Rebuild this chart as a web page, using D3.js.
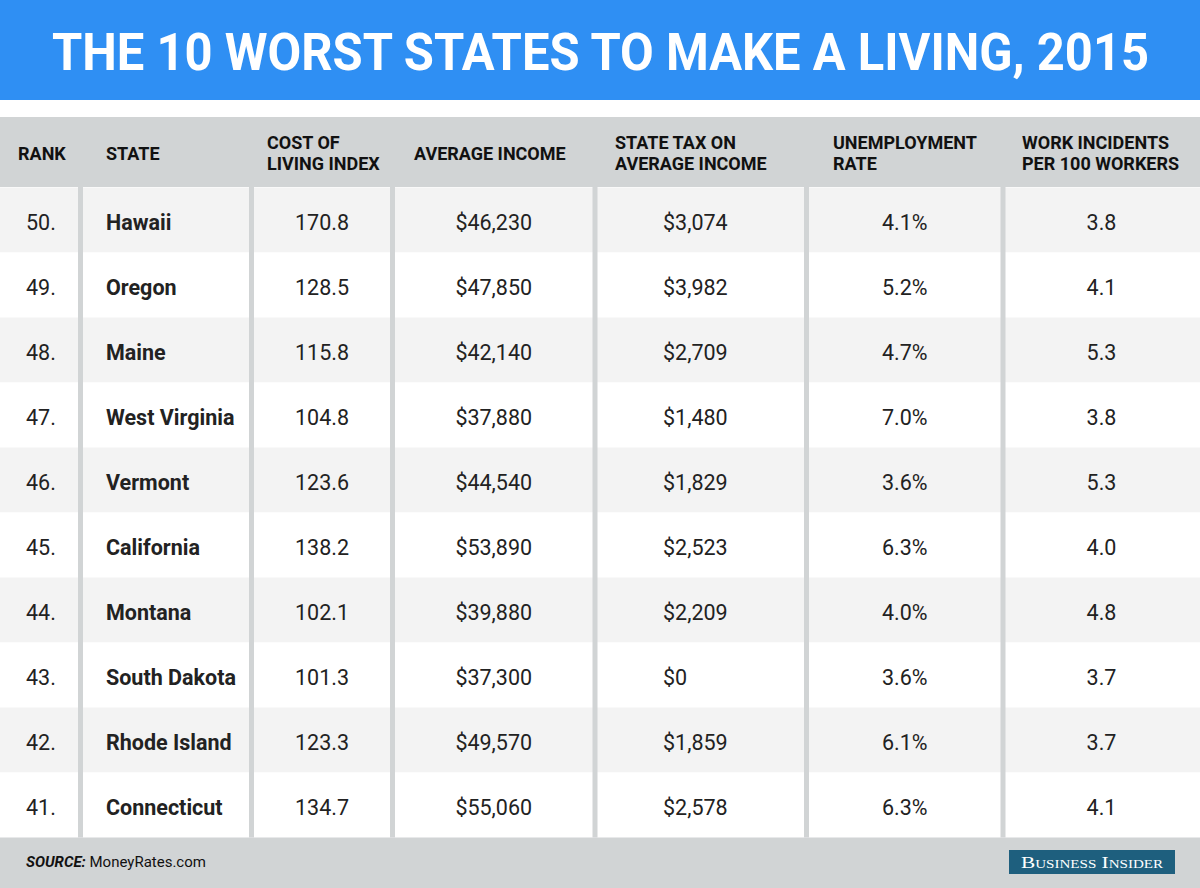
<!DOCTYPE html>
<html><head><meta charset="utf-8">
<script src="https://cdn.jsdelivr.net/npm/d3@7"></script>
<style>body{margin:0;background:#fff;}svg{display:block;font-family:Roboto,'Open Sans',sans-serif;}</style>
</head><body><svg id="c" width="1200" height="888"></svg>
<script>
const title = "THE 10 WORST STATES TO MAKE A LIVING, 2015";
const headers = [["RANK"],["STATE"],["COST OF","LIVING INDEX"],["AVERAGE INCOME"],["STATE TAX ON","AVERAGE INCOME"],["UNEMPLOYMENT","RATE"],["WORK INCIDENTS","PER 100 WORKERS"]];
const ranks = [50,49,48,47,46,45,44,43,42,41];
const states = ["Hawaii","Oregon","Maine","West Virginia","Vermont","California","Montana","South Dakota","Rhode Island","Connecticut"];
const costIndex = [170.8,128.5,115.8,104.8,123.6,138.2,102.1,101.3,123.3,134.7];
const avgIncome = [46230,47850,42140,37880,44540,53890,39880,37300,49570,55060];
const stateTax = [3074,3982,2709,1480,1829,2523,2209,0,1859,2578];
const unemployment = [4.1,5.2,4.7,7.0,3.6,6.3,4.0,3.6,6.1,6.3];
const incidents = [3.8,4.1,5.3,3.8,5.3,4.0,4.8,3.7,3.7,4.1];
const source = "MoneyRates.com";

const svg = d3.select("#c");
const W = 1200, H = 888;
const gray = "#d1d4d5";

// banner
svg.append("rect").attr("x",0).attr("y",0).attr("width",W).attr("height",100).attr("fill","#2f8ff3");
svg.append("text").attr("x",52).attr("y",70).attr("fill","#fff").attr("font-weight",700)
  .attr("font-size",51).attr("textLength",1097).attr("lengthAdjust","spacingAndGlyphs").text(title);

// header band
svg.append("rect").attr("x",0).attr("y",117).attr("width",W).attr("height",70).attr("fill",gray);

// column boundaries (separator centers)
const colEdges = [0,80.5,251.5,392.5,595,806.5,1003,1200];
const centerOf = i => (colEdges[i]+colEdges[i+1])/2;
const headX = [18,106,267,414,615,833,1022];

// rows
const y = d3.scaleBand().domain(d3.range(ranks.length)).range([187.5,837.5]).padding(0);
svg.append("g").selectAll("rect").data(ranks).join("rect")
  .attr("x",0).attr("y",(d,i)=>y(i)).attr("width",W).attr("height",y.bandwidth())
  .attr("fill",(d,i)=>i%2===0?"#f3f3f3":"#ffffff");

// separators
svg.append("g").selectAll("rect").data(colEdges.slice(1,-1)).join("rect")
  .attr("x",d=>d-2.5).attr("y",117).attr("width",5).attr("height",837.5-117).attr("fill",gray);
svg.append("rect").attr("x",0).attr("y",117).attr("width",W).attr("height",69).attr("fill",gray);

// header labels
const hg = svg.append("g").attr("font-weight",700).attr("font-size",18).attr("fill","#111");
headers.forEach((h,i)=>{
  const t = hg.append("text").attr("x",headX[i]);
  if(h.length===1){ t.attr("y",160).text(h[0]); }
  else {
    t.append("tspan").attr("x",headX[i]).attr("y",149).text(h[0]);
    t.append("tspan").attr("x",headX[i]).attr("y",170).text(h[1]);
  }
});

// data cells
const fmtMoney = v => "$" + d3.format(",")(v);
const cols = [
  {vals:ranks, f:v=>v+".", bold:false, x:26, anchor:"start"},
  {vals:states, f:v=>v, bold:true, x:106, anchor:"start"},
  {vals:costIndex, f:d3.format(".1f"), bold:false, x:centerOf(2), anchor:"middle"},
  {vals:avgIncome, f:fmtMoney, bold:false, x:centerOf(3), anchor:"middle"},
  {vals:stateTax, f:fmtMoney, bold:false, x:663, anchor:"start"},
  {vals:unemployment, f:v=>d3.format(".1f")(v)+"%", bold:false, x:centerOf(5), anchor:"middle"},
  {vals:incidents, f:d3.format(".1f"), bold:false, x:centerOf(6), anchor:"middle"}
];
const dg = svg.append("g").attr("font-size",21.5).attr("fill","#222");
cols.forEach(c=>{
  dg.append("g").selectAll("text").data(c.vals).join("text")
    .attr("x",c.x).attr("text-anchor",c.anchor).attr("y",(d,i)=>y(i)+y.bandwidth()/2+10)
    .attr("font-weight",c.bold?700:400).text(d=>c.f(d));
});

// footer
svg.append("rect").attr("x",0).attr("y",837.5).attr("width",W).attr("height",H-837.5).attr("fill",gray);
const ft = svg.append("text").attr("x",26).attr("y",867).attr("font-size",15).attr("fill","#111");
ft.append("tspan").attr("font-weight",700).attr("font-style","italic").text("SOURCE:");
ft.append("tspan").text(" " + source);

// logo
svg.append("rect").attr("x",1009).attr("y",850).attr("width",166).attr("height",24).attr("fill","#1e5f7e");
svg.append("text").attr("x",1092).attr("y",868).attr("text-anchor","middle").attr("fill","#fff")
  .attr("font-family","'Liberation Serif',serif").attr("font-size",17).attr("font-variant","small-caps")
  .attr("textLength",142).attr("lengthAdjust","spacingAndGlyphs").text("Business Insider");
</script></body></html>
